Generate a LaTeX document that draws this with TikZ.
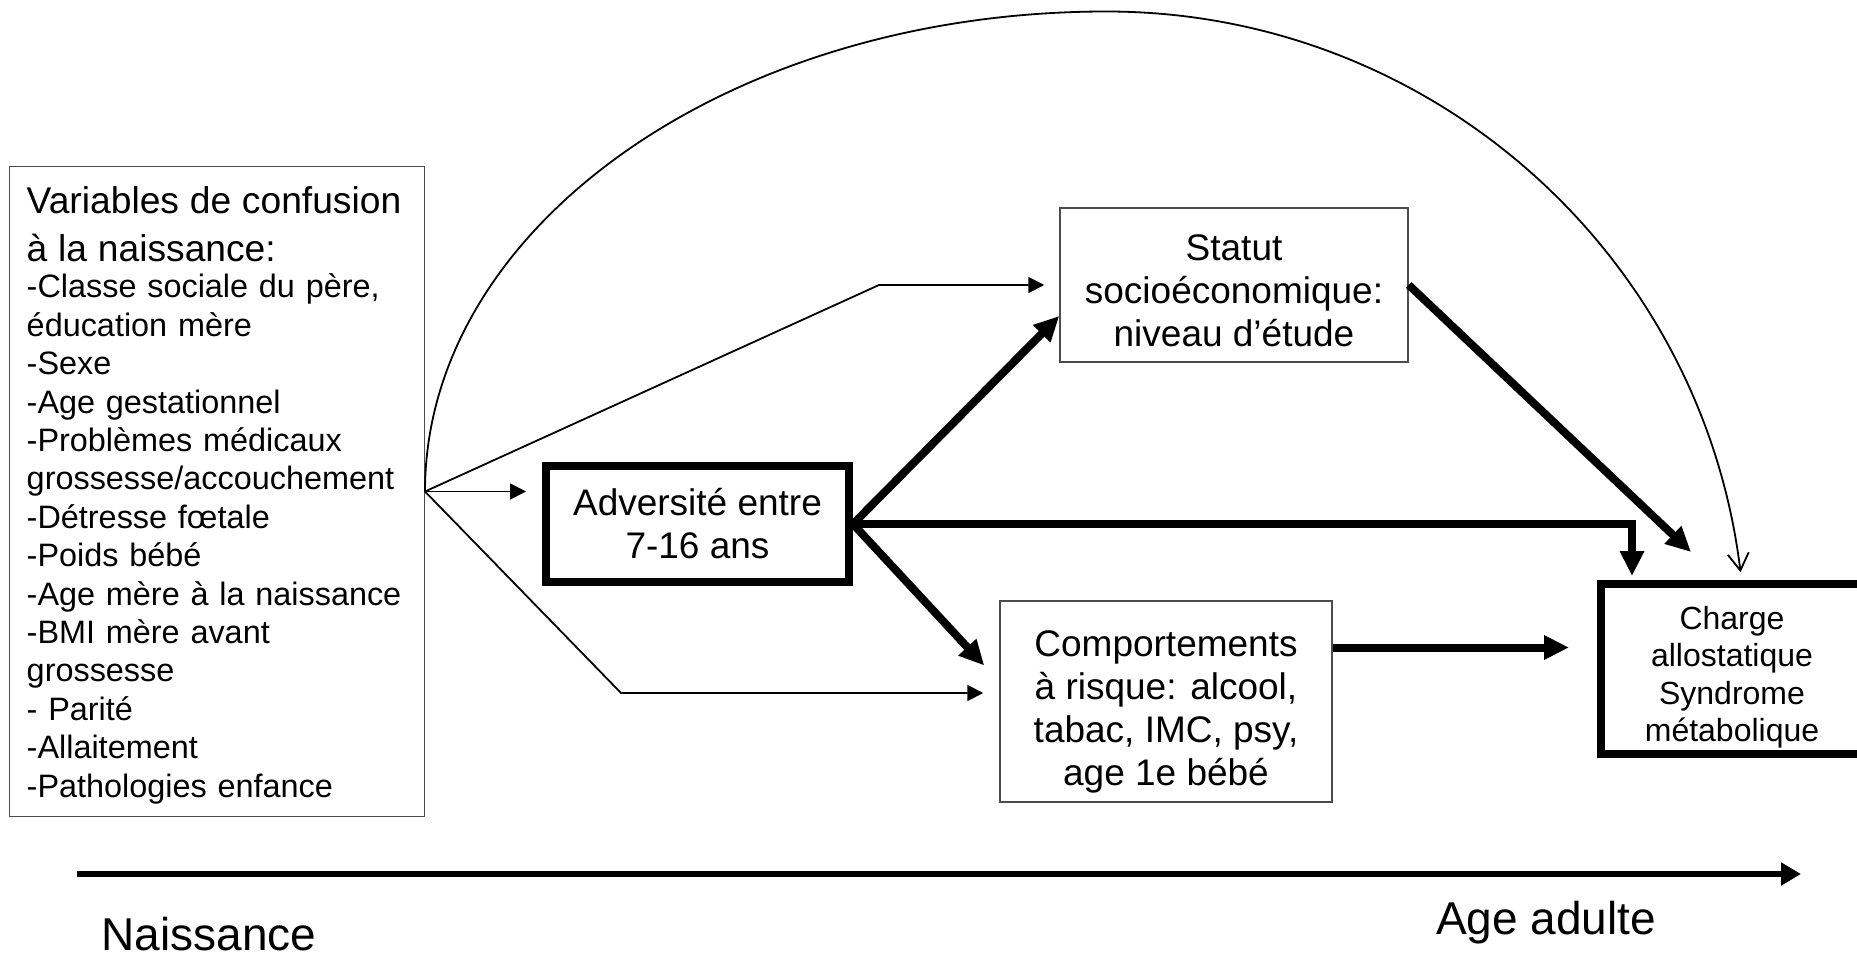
\documentclass[tikz,border=0pt]{standalone}
\usepackage{fontspec}
\setmainfont{Liberation Sans}
\usetikzlibrary{arrows.meta}
\setlength{\parindent}{0pt}
\begin{document}
\begin{tikzpicture}[x=0.5pt,y=-0.5pt,
  thinbox/.style={draw=black!70, line width=0.75pt, inner sep=0pt, align=center},
  thickbox/.style={draw=black, line width=4pt, inner sep=0pt, align=center},
  bigtext/.style={font=\fontsize{18.5}{21.5}\selectfont},
  thinarrow/.style={line width=0.9pt, -{Triangle[length=8pt,width=8pt]}},
  thickarrow/.style={line width=4pt, -{Triangle[length=12.5pt,width=11.5pt]}},
  timetext/.style={font=\fontsize{23}{27}\selectfont, anchor=base, inner sep=0pt},
]
\fill[white] (0,0) rectangle (1857,963);
\useasboundingbox (0,0) rectangle (1857,963);
\clip (0,0) rectangle (1857,963);

% boxes
\node[thinbox, align=left, text width=190pt, minimum width=207.5pt, minimum height=325pt,
      font=\fontsize{16.2}{19.2}\selectfont] (conf) at (216.75,491.5)
  {{\fontsize{18.6}{24.3}\selectfont\rule{0pt}{17.1pt}Variables de confusion\\à la naissance:\par}\vspace{-1.2pt}%
   -Classe sociale du père,\\éducation mère\\-Sexe\\-Age gestationnel\\-Problèmes médicaux\\grossesse/accouchement\\-Détresse fœtale\\-Poids bébé\\-Age mère à la naissance\\-BMI mère avant\\grossesse\\- Parité\\-Allaitement\\-Pathologies enfance};

\node[thickbox, bigtext, minimum width=151.5pt, minimum height=58pt] (adv) at (697.5,524)
  {Adversité entre\\7-16 ans};
\node[thinbox, bigtext, minimum width=174pt, minimum height=77pt] (stat) at (1234,285)
  {\rule{0pt}{18.7pt}Statut\\socioéconomique:\\niveau d’étude};
\node[thinbox, bigtext, minimum width=166pt, minimum height=100.5pt] (comp) at (1166,701.5)
  {\rule{0pt}{23.7pt}Comportements\\à risque: alcool,\\tabac, IMC, psy,\\age 1e bébé};
\node[thickbox, font=\fontsize{16}{18.6}\selectfont, minimum width=131pt, minimum height=85pt] (chg) at (1732,669)
  {\rule{0pt}{19.8pt}Charge\\allostatique\\Syndrome\\métabolique};

% thin connectors from confounders
\coordinate (cA) at (879,285);
\coordinate (cB) at (621,693);
\draw[thinarrow, shorten >=8pt] (conf.east) -- (conf.east -| adv.west);
\draw[thinarrow, shorten >=7.5pt] (conf.east) -- (cA) -- (stat.west);
\draw[thinarrow, shorten >=8pt] (conf.east) -- (cB) -- (cB -| comp.west);

% long arc
\draw[line width=0.9pt, -{Straight Barb[length=8.5pt,width=10.5pt]}]
  (conf.east) arc[start angle=180, end angle=270, x radius=681.5, y radius=480]
  arc[start angle=270, end angle=353, x radius=638.8, y radius=638.5];

% thick connectors
\draw[thickarrow] (adv.east) -- ([yshift=-15.5pt]stat.west);
\draw[thickarrow, shorten >=2pt] (adv.east) -| ([xshift=17.5pt]chg.north west);
\draw[thickarrow] (adv.east) -- ([xshift=-7.5pt,yshift=18pt]comp.west);
\draw[thickarrow] (stat.east) -- ([xshift=47pt,yshift=14pt]chg.north west);
\coordinate (cC) at ([yshift=27pt]comp.east);
\draw[thickarrow, shorten >=14pt] (cC) -- (cC -| chg.west);

% timeline
\coordinate (t0) at (77,874);
\coordinate (t1) at (1801,874);
\draw[line width=3.3pt, -{Triangle[length=10pt,width=11pt]}] (t0) -- (t1);
\node[timetext] (nais) at (209,950) {Naissance};
\node[timetext] (adulte) at (1546,934) {Age adulte};
\end{tikzpicture}
\end{document}
